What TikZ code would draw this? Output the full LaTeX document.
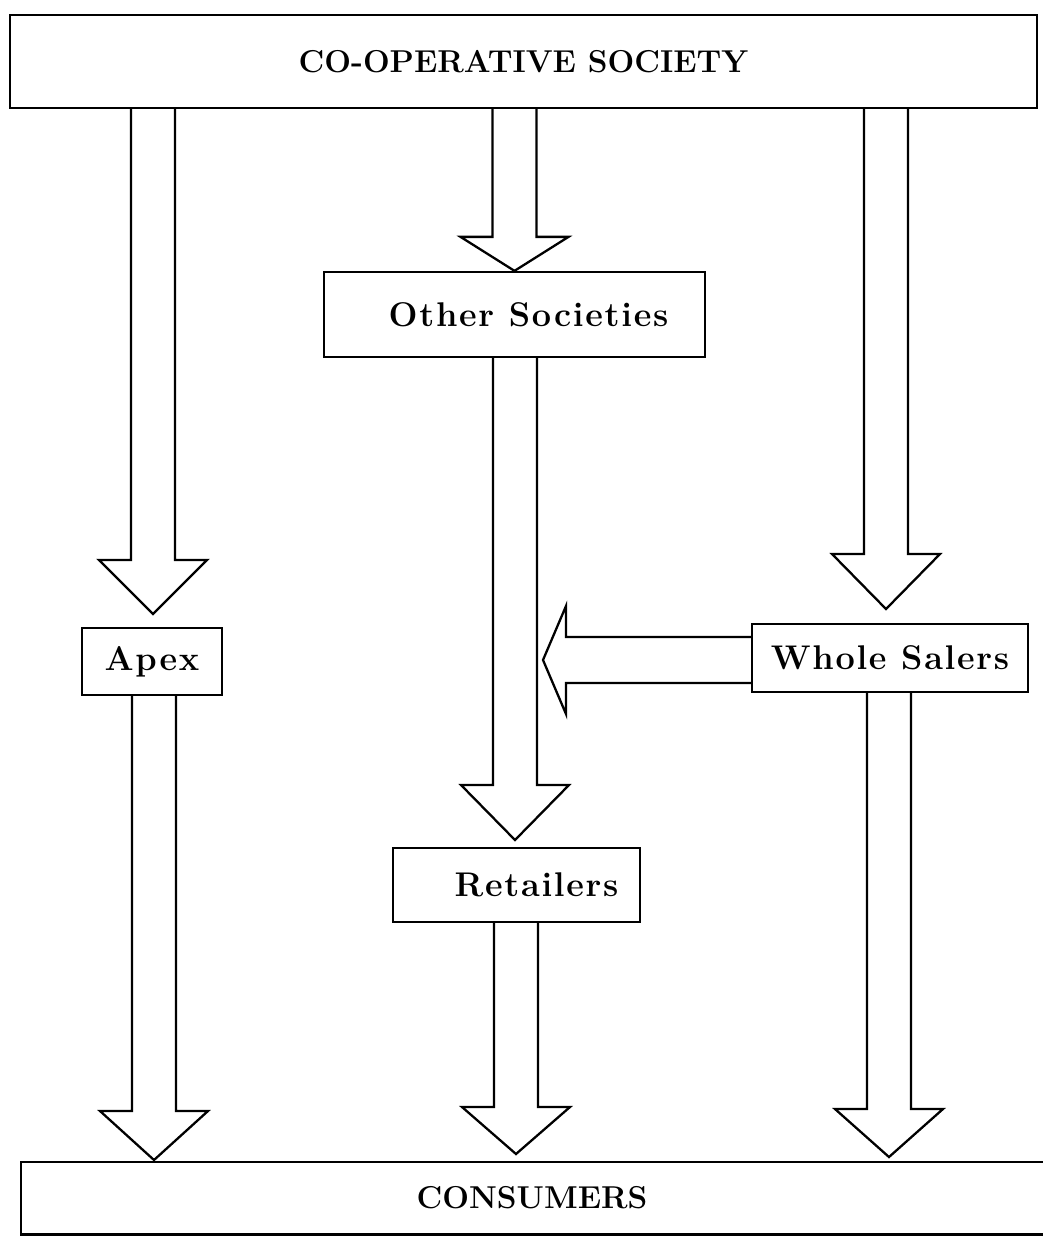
\documentclass[tikz,border=0pt]{standalone}
\usepackage{fontspec}
\usepackage{tikz}
\usetikzlibrary{calc}
\newfontfamily\labelfont[LetterSpace=5]{Latin Modern Roman}
\newfontfamily\capsfont{Latin Modern Roman}
\tikzset{
    box/.style={draw,line width=1.3pt,inner sep=0pt,align=center},
    lowtext/.style={font=\labelfont\bfseries\fontsize{19.5}{22}\selectfont},
    captext/.style={font=\capsfont\bfseries\fontsize{18}{21}\selectfont},
    fatarrow/.style={draw,line width=1.3pt,line join=miter}
}
\newcommand{\downblock}[3]{%
    \draw[fatarrow] ($(#1 -| #2)+(-22,0)$) -- ($(#2)+(-22,-#3)$) -- ($(#2)+(-54,-#3)$) -- (#2)
        -- ($(#2)+(54,-#3)$) -- ($(#2)+(22,-#3)$) -- ($(#1 -| #2)+(22,0)$);}
\newcommand{\leftblock}[3]{%
    \draw[fatarrow] ($(#1 |- #2)+(0,-23)$) -- ($(#2)+(#3,-23)$) -- ($(#2)+(#3,-54)$) -- (#2)
        -- ($(#2)+(#3,54)$) -- ($(#2)+(#3,23)$) -- ($(#1 |- #2)+(0,23)$);}
\begin{document}
\begin{tikzpicture}[x=0.02cm,y=-0.02cm]
            \useasboundingbox (0,0) rectangle (1043,1237);

            \node[box,captext,minimum width=20.54cm,minimum height=1.86cm] (coop) at (523.5,61.5) {CO-OPERATIVE SOCIETY};
            \node[box,lowtext,minimum width=7.62cm,minimum height=1.70cm] (other) at (514.5,314.5) {\hspace*{0.56cm}Other Societies};
            \node[box,lowtext,minimum width=2.80cm,minimum height=1.34cm] (apex) at (152,661.5) {Apex};
            \node[box,lowtext,minimum width=5.52cm,minimum height=1.36cm] (ws) at (890,658) {Whole Salers};
            \node[box,lowtext,minimum width=4.94cm,minimum height=1.48cm] (ret) at (516.5,885) {\hspace*{0.8cm}Retailers};
            \node[captext,inner sep=0pt,minimum width=20.44cm,minimum height=1.44cm] (cons) at (532,1198) {CONSUMERS};
            \draw[line width=1.3pt] (cons.north east) -| (cons.south west) -- (cons.south east);

            \coordinate (toapex) at (153,614);
            \coordinate (tows) at (886,609);
            \coordinate (toret) at (515,840);
            \coordinate (consa) at (154,1160);
            \coordinate (consb) at (516,1154);
            \coordinate (consc) at (889,1157);
            \coordinate (toother) at (543,660);

            \downblock{coop.south}{toapex}{54}
            \downblock{coop.south}{other.north}{34}
            \downblock{coop.south}{tows}{55}
            \downblock{other.south}{toret}{55}
            \downblock{apex.south}{consa}{49}
            \downblock{ret.south}{consb}{47}
            \downblock{ws.south}{consc}{48}
            \leftblock{ws.west}{toother}{23}
\end{tikzpicture}
\end{document}
